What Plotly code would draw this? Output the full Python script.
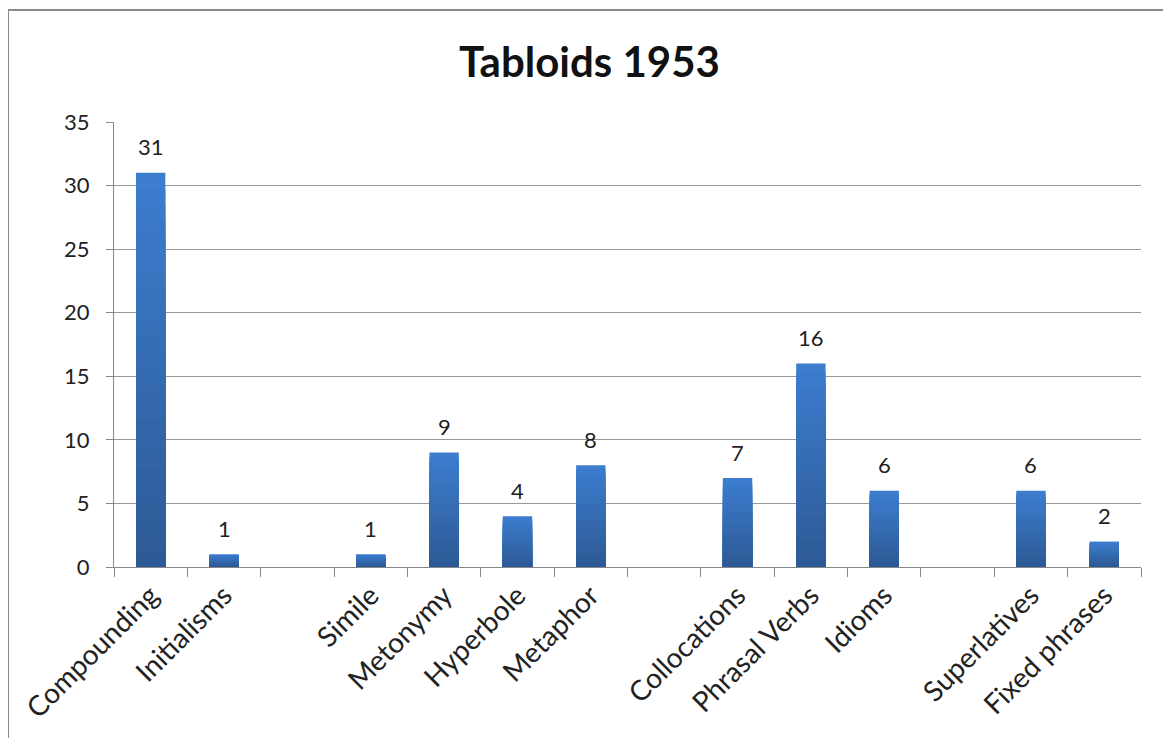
import plotly.graph_objects as go

categories = ["Compounding", "Initialisms", " ", "Simile", "Metonymy", "Hyperbole", "Metaphor",
              "  ", "Collocations", "Phrasal Verbs", "Idioms", "   ", "Superlatives", "Fixed phrases"]
values = [31, 1, None, 1, 9, 4, 8, None, 7, 16, 6, None, 6, 2]
title_text = "Tabloids 1953"

fig = go.Figure()

# gradient approximation: overlaid layers, light at top to dark at bottom
top_rgb = (60, 125, 206)
bot_rgb = (45, 90, 150)
n_layers = 24
for k in range(n_layers):
    f = 1 - k / n_layers
    t = k / (n_layers - 1)
    c = tuple(round(top_rgb[i] + (bot_rgb[i] - top_rgb[i]) * t) for i in range(3))
    fig.add_trace(go.Bar(
        x=categories,
        y=[v * f if v is not None else None for v in values],
        marker=dict(color="rgb(%d,%d,%d)" % c, line=dict(width=0)),
        hoverinfo="skip" if k else None,
        showlegend=False,
    ))

FONT = "Lato, Open Sans, sans-serif"
for cat, v in zip(categories, values):
    if v is None:
        continue
    fig.add_annotation(x=cat, y=v, text=str(v), showarrow=False, yanchor="middle",
                       yshift=26, font=dict(family=FONT, size=22, color="#222"))

# page has an 8px body margin; figure coordinates = page coordinates - 8
OFF = 8
W, H = 1171 - OFF, 738 - OFF
ml, mt = 114 - OFF, 122 - OFF
mr = W - (1141 - OFF)
mb = H - (567 - OFF)
pw, ph = W - ml - mr, H - mt - mb

def px(xp):
    return (xp - OFF - ml) / pw

def py(yp):
    return (H - mb - (yp - OFF)) / ph

fig.add_shape(type="rect", xref="paper", yref="paper",
              x0=px(8), x1=px(1169), y0=py(780), y1=py(10),
              line=dict(color="#8a8a8a", width=2), fillcolor="rgba(0,0,0,0)", layer="below")

fig.update_layout(
    width=W, height=H,
    margin=dict(l=ml, r=mr, t=mt, b=mb),
    paper_bgcolor="white", plot_bgcolor="white",
    barmode="overlay", bargap=0.6,
    title=dict(text="<b>" + title_text + "</b>", x=0.5, xanchor="center",
               y=1 - (62 - OFF) / H, yanchor="middle",
               font=dict(family=FONT, size=42, color="#111")),
    font=dict(family=FONT, color="#222"),
)
fig.update_xaxes(type="category", categoryorder="array", categoryarray=categories,
                 tickson="boundaries", ticks="outside", ticklen=9, tickcolor="#888",
                 showline=True, linecolor="#888", linewidth=1, showgrid=False,
                 tickangle=-45, tickfont=dict(size=28, color="#222"))
fig.update_yaxes(range=[0, 35], dtick=5, ticks="outside", ticklen=7, tickcolor="#888",
                 showline=True, linecolor="#888", linewidth=1,
                 showgrid=True, gridcolor="#999", gridwidth=1, zeroline=False,
                 ticklabelstandoff=12,
                 tickfont=dict(size=22, color="#222"))

fig.write_html("out.html")
